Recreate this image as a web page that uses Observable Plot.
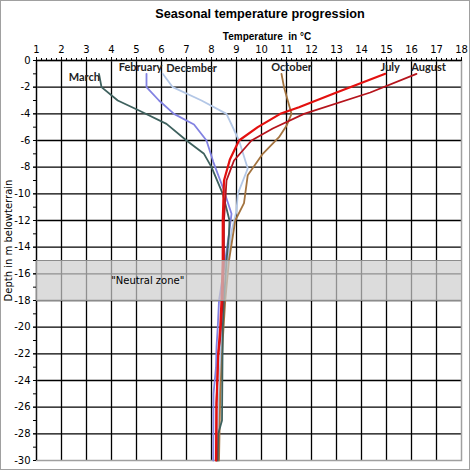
<!DOCTYPE html>
<html><head><meta charset="utf-8">
<script src="https://cdn.jsdelivr.net/npm/d3@7"></script>
<script src="https://cdn.jsdelivr.net/npm/@observablehq/plot@0.6"></script>
<style>
body{margin:0;background:#fff}
#chart{position:relative;width:470px;height:470px;overflow:hidden}
#chart svg{display:block}
#chart svg text{white-space:pre}
#border{position:absolute;left:0;top:0;width:470px;height:470px;box-sizing:border-box;border:1px solid #a0a0a0;pointer-events:none}
</style></head><body><div id="chart"><div id="border"></div></div>
<script>
// ---- data ----
const title = "Seasonal temperature progression";
const xTitle = "Temperature  in °C";
const yTitle = "Depth in m belowterrain";
const neutralLabel = "\"Neutral zone\"";
const neutralTop = -15, neutralBottom = -18;
const xTicks = d3.range(1, 19);          // 1..18
const yTicks = d3.range(-30, 1, 2);      // -30..0

const marchDepth = [-1,-2,-3,-3.75,-4.75,-6,-7,-8,-10,-12,-13,-15,-18,-20,-27,-28,-30];
const marchTemp  = [3.5,3.6,4.25,5.1,6.2,7.0,7.7,8.0,8.45,8.72,8.7,8.6,8.5,8.45,8.42,8.27,8.25];

const febDepth = [-1,-2,-3,-4,-4.8,-6,-7.6,-9.6,-11.5,-13,-15,-18,-20,-21.5,-23,-25,-30];
const febTemp  = [5.4,5.4,5.9,6.5,7.3,7.8,8.07,8.47,8.8,8.7,8.55,8.3,8.25,8.2,8.18,8.08,8.07];

const decDepth = [-1,-2,-3,-4,-6,-8.1,-10,-11.3,-12.8,-15,-18,-20,-25,-30];
const decTemp  = [6.05,6.45,7.6,8.6,9.1,9.45,9.05,9.0,8.8,8.65,8.5,8.4,8.3,8.25];

const octDepth = [-1,-2,-3,-4,-4.9,-5.75,-7,-8.6,-10.7,-12,-15,-18,-21,-25,-30];
const octTemp  = [10.8,10.9,11.05,11.2,11.0,10.7,10.05,9.45,9.3,8.95,8.7,8.55,8.45,8.35,8.3];

const julDepth = [-1,-2.4,-3.5,-4,-5,-6,-7.4,-9,-12,-15,-18,-20,-22,-25.7,-30];
const julTemp  = [14.95,13.0,11.5,10.75,9.85,9.1,8.74,8.5,8.45,8.45,8.4,8.35,8.27,8.2,8.18];

const augDepth = [-1,-2.4,-4,-5.1,-6,-7.5,-9,-12,-15,-18,-21,-22,-25.7,-30];
const augTemp  = [16.2,14.35,11.7,10.45,9.6,8.9,8.6,8.5,8.5,8.45,8.34,8.27,8.2,8.2];

// ---- build series ----
const toRows = (t, d) => t.map((v, i) => ({t: v, d: d[i]}));
const series = [
  {name: "December", rows: toRows(decTemp, decDepth), color: "#b3c7e6", w: 1.8, anchor: "start",  dx: 3.5, dy: -5},
  {name: "October",  rows: toRows(octTemp, octDepth), color: "#a3733f", w: 1.8, anchor: "middle", dx: 10,  dy: -6},
  {name: "February", rows: toRows(febTemp, febDepth), color: "#8282e2", w: 1.8, anchor: "middle", dx: -6,  dy: -6},
  {name: "March",    rows: toRows(marchTemp, marchDepth), color: "#3e615e", w: 1.8, anchor: "end", dx: 1, dy: 4},
  {name: "August",   rows: toRows(augTemp, augDepth), color: "#b5141c", w: 1.8, anchor: "middle", dx: 12,  dy: -6},
  {name: "July",     rows: toRows(julTemp, julDepth), color: "#e3100f", w: 2.2, anchor: "middle", dx: 5,   dy: -6}
];

const lineMarks = series.map(s => Plot.line(s.rows, {x: "t", y: "d", stroke: s.color, strokeWidth: s.w, strokeLinejoin: "round"}));
const labelMarks = series.map(s => Plot.text([s.rows[0]], {
  x: "t", y: "d", text: () => s.name, textAnchor: s.anchor, dx: s.dx, dy: s.dy,
  fontFamily: "Lato", fontWeight: "bold", fontSize: 11, fill: "#222"
}));

const chart = Plot.plot({
  width: 470, height: 470,
  marginLeft: 36, marginRight: 9, marginTop: 60, marginBottom: 10,
  x: {domain: [1, 18], axis: null, label: null},
  y: {domain: [-30, 0], axis: null, label: null},
  style: {fontFamily: "DejaVu Sans", fontSize: "10px", color: "#000", background: "#fff"},
  marks: [
    Plot.gridX(xTicks.slice(1, -1), {stroke: "#000", strokeOpacity: 1, strokeWidth: 1.3}),
    Plot.gridY(yTicks.slice(1, -1), {stroke: "#000", strokeOpacity: 1, strokeWidth: 1.3}),
    Plot.frame({stroke: "#a0a0a0", strokeWidth: 1.5}),
    Plot.ruleX([1], {stroke: "#000", strokeWidth: 1.3}),
    Plot.ruleY([0], {stroke: "#000", strokeWidth: 1.3}),
    ...lineMarks,
    Plot.rect([0], {x1: () => 1, x2: () => 18, y1: () => neutralTop, y2: () => neutralBottom, fill: "#cdcdcd", fillOpacity: 0.7}),
    Plot.ruleY([neutralTop, neutralBottom], {stroke: "#8c8c8c", strokeWidth: 1.2}),
    Plot.text([neutralLabel], {x: () => 5.45, y: () => (neutralTop + neutralBottom) / 2, fontSize: 10}),
    ...labelMarks,
    // top axis: minor and major ticks + labels
    Plot.axisX(d3.range(1, 18.001, 0.2).map(v => +v.toFixed(1)), {anchor: "top", tickSize: 3, tickFormat: () => "", label: null, strokeWidth: 1}),
    Plot.axisX(xTicks, {anchor: "top", tickSize: 4, tickPadding: 4, tickFormat: d => String(d), label: null, fontSize: 10}),
    // left axis
    Plot.axisY(d3.range(-30, 0.001, 1), {anchor: "left", tickSize: 3, tickFormat: () => "", label: null, strokeWidth: 1}),
    Plot.axisY(yTicks, {anchor: "left", tickSize: 3, tickPadding: 3, tickFormat: d => String(d), label: null, fontSize: 10}),
    // titles
    Plot.text([title], {frameAnchor: "top", dx: 11, dy: -52, fontFamily: "Liberation Sans", fontWeight: "bold", fontSize: 12.7}),
    Plot.text([xTitle], {frameAnchor: "top", dx: 18, dy: -28, fontFamily: "Liberation Sans", fontWeight: "bold", fontSize: 10}),
    Plot.text([yTitle], {frameAnchor: "left", y: () => -13.5, dx: -28, rotate: -90, textAnchor: "middle", fontSize: 10})
  ]
});
document.getElementById("chart").prepend(chart);
</script></body></html>
